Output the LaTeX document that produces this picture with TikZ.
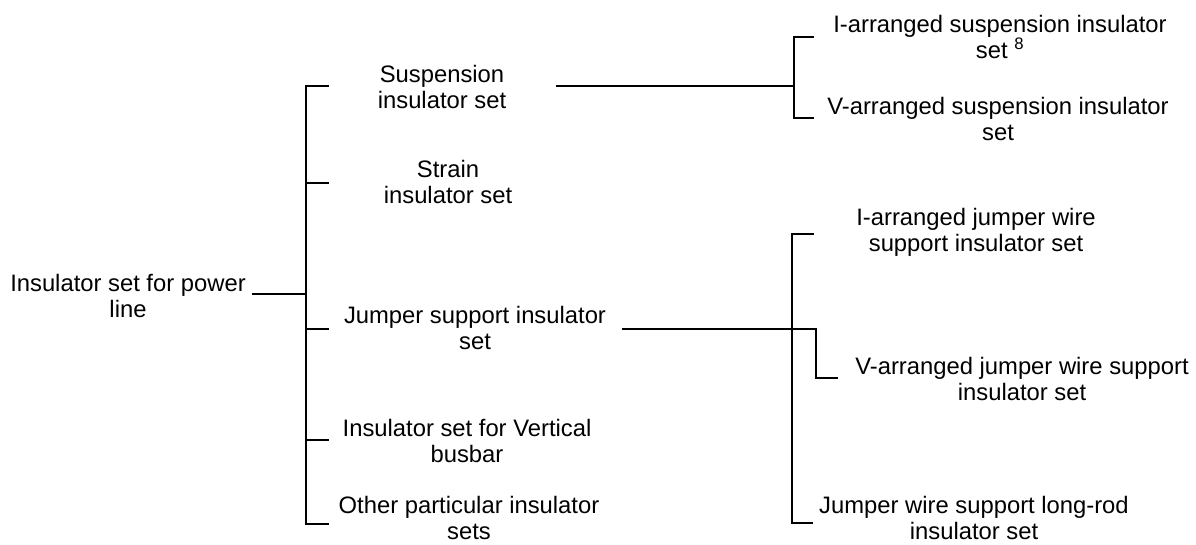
\documentclass[tikz,border=0pt]{standalone}
\usepackage{fontspec}
\setmainfont{Liberation Sans}
\begin{document}
\begin{tikzpicture}[x=1pt,y=-1pt,
  lbl/.style={align=center,inner sep=0pt,font=\fontsize{23.8}{26}\selectfont},
  ln/.style={line width=1.6pt,line cap=rect}]
\useasboundingbox (0,0) rectangle (1196,545);
% text nodes
\node[lbl] (root) at (128,296) {Insulator set for power\\line};
\node[lbl] (susp) at (442,87) {Suspension\\insulator set};
\node[lbl] (strain) at (448,182) {Strain\\insulator set};
\node[lbl] (jump) at (475,328) {Jumper support insulator\\set};
\node[lbl] (vert) at (467,441) {Insulator set for Vertical\\busbar};
\node[lbl] (other) at (469,518) {Other particular insulator\\sets};
\node[lbl] (isusp) at (1000,37) {I-arranged suspension insulator\\set \textsuperscript{8}};
\node[lbl] (vsusp) at (998,119) {V-arranged suspension insulator\\set};
\node[lbl] (ijump) at (976,232) {I-arranged jumper wire\\support insulator set};
\node[lbl] (vjump) at (1022,379) {V-arranged jumper wire support\\insulator set};
\node[lbl] (ljump) at (974,518) {Jumper wire support long-rod\\insulator set};
% coordinates
\coordinate (r0) at (253,294);
\coordinate (rj) at (306,294);
\coordinate (m1) at (306,86);  \coordinate (t1) at (328,86);
\coordinate (m2) at (306,183); \coordinate (t2) at (328,183);
\coordinate (m3) at (306,329); \coordinate (t3) at (328,329);
\coordinate (m4) at (306,440); \coordinate (t4) at (328,440);
\coordinate (m5) at (306,524); \coordinate (t5) at (328,524);
\coordinate (s0) at (557,86);
\coordinate (sj) at (794,86);
\coordinate (s1) at (794,37);  \coordinate (st1) at (813,37);
\coordinate (s2) at (794,118); \coordinate (st2) at (813,118);
\coordinate (j0) at (623,329);
\coordinate (jj) at (792,329);
\coordinate (j1) at (792,234); \coordinate (jt1) at (813,234);
\coordinate (j3) at (792,523); \coordinate (jt3) at (812,523);
\coordinate (vk1) at (816,329);
\coordinate (vk2) at (816,378);
\coordinate (vk3) at (837,378);
% connectors
\draw[ln] (r0) -- (rj);
\draw[ln] (t1) -- (m1) -- (m5) -- (t5);
\draw[ln] (m2) -- (t2);
\draw[ln] (m3) -- (t3);
\draw[ln] (m4) -- (t4);
\draw[ln] (s0) -- (sj);
\draw[ln] (st1) -- (s1) -- (s2) -- (st2);
\draw[ln] (j0) -- (jj);
\draw[ln] (jt1) -- (j1) -- (j3) -- (jt3);
\draw[ln] (jj) -- (vk1) -- (vk2) -- (vk3);
\end{tikzpicture}
\end{document}
